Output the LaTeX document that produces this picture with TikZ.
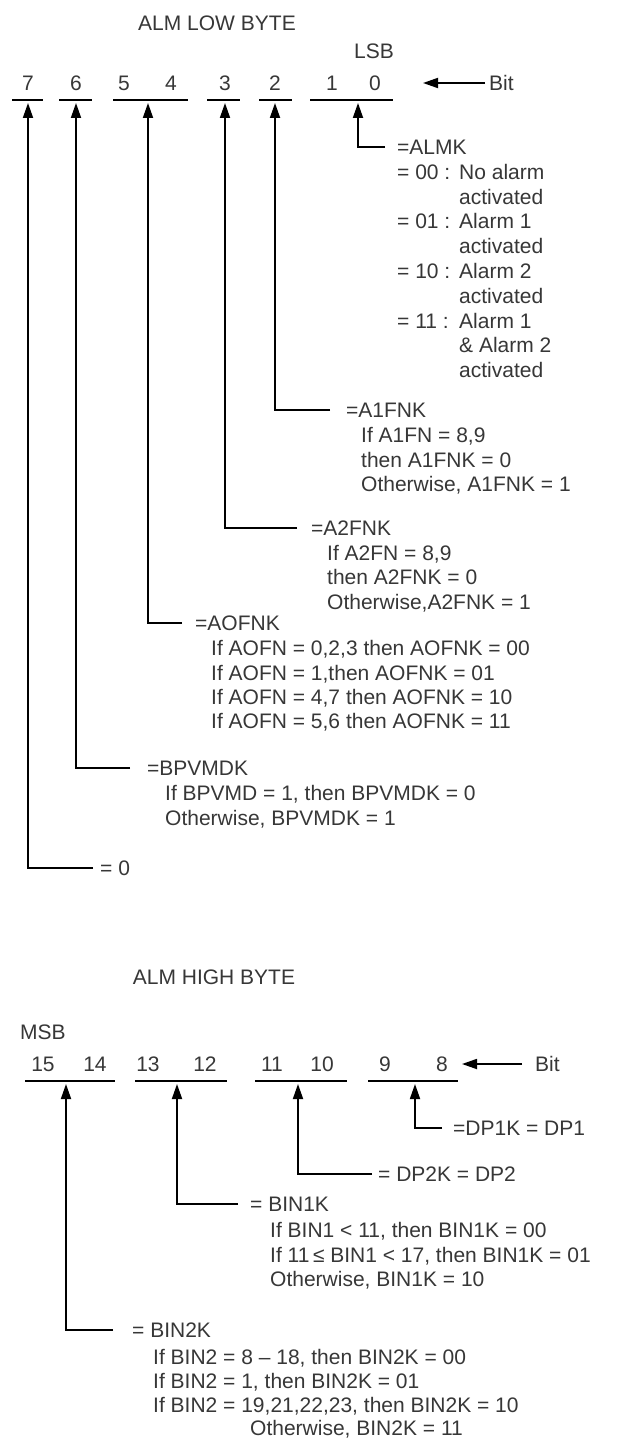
\documentclass[tikz,border=0pt]{standalone}
\usepackage{fontspec}
\setmainfont{Liberation Sans}
\usetikzlibrary{arrows.meta}
\definecolor{txtc}{RGB}{55,55,55}
\begin{document}
\begin{tikzpicture}[x=1pt,y=-1pt,
  lbl/.style={anchor=base west,inner sep=0pt,text=txtc,font=\fontsize{21}{25}\selectfont},
  ctr/.style={anchor=base,inner sep=0pt,text=txtc,font=\fontsize{21}{25}\selectfont},
  uline/.style={draw=black,line width=1.7pt},
  conn/.style={draw=black,line width=1.8pt,-{Triangle[length=15pt,width=10pt]}}]
\useasboundingbox[fill=white] (0,0) rectangle (617,1439);

% ---------------- LOW BYTE ----------------
\node[ctr] (lowtitle) at (217,31) {ALM LOW BYTE};
\node[ctr] (lsb) at (374,58.5) {LSB};
\node[ctr] (d7) at (28,90.5) {7};
\node[ctr] (d6) at (76,90.5) {6};
\node[ctr] (d5) at (124,90.5) {5};
\node[ctr] (d4) at (171,90.5) {4};
\node[ctr] (d3) at (225,90.5) {3};
\node[ctr] (d2) at (275,90.5) {2};
\node[ctr] (d1) at (332,90.5) {1};
\node[ctr] (d0) at (375,90.5) {0};
\draw[uline] (12,100) -- (43,100);
\draw[uline] (59,100) -- (92,100);
\draw[uline] (113,100) -- (188,100);
\draw[uline] (207,100) -- (240,100);
\draw[uline] (259,100) -- (292,100);
\draw[uline] (310,100) -- (393,100);
\node[lbl] (bitlo) at (489,90.5) {Bit};
\coordinate (bitlotip) at (423,83);
\draw[conn] ([xshift=-4pt]bitlo.west |- bitlotip) -- (bitlotip);

\coordinate (g7) at (28,103);
\coordinate (g6) at (76,103);
\coordinate (g54) at (148,103);
\coordinate (g3) at (225,103);
\coordinate (g2) at (275,103);
\coordinate (g10) at (358,103);

% ALMK
\node[lbl] (almk) at (397,154.5) {=ALMK};
\node[lbl] (a00) at (397,179.3) {= 00 :};
\node[lbl] (a00t) at (459,179.3) {No alarm};
\node[lbl] (a00u) at (459,204.1) {activated};
\node[lbl] (a01) at (397,228.9) {= 01 :};
\node[lbl] (a01t) at (459,228.9) {Alarm 1};
\node[lbl] (a01u) at (459,253.7) {activated};
\node[lbl] (a10) at (397,278.5) {= 10 :};
\node[lbl] (a10t) at (459,278.5) {Alarm 2};
\node[lbl] (a10u) at (459,303.3) {activated};
\node[lbl] (a11) at (397,328.1) {= 11 :};
\node[lbl] (a11t) at (459,328.1) {Alarm 1};
\node[lbl] (a11u) at (459,352.9) {\& Alarm 2};
\node[lbl] (a11v) at (459,377.7) {activated};
\coordinate (e10) at (385,147);
\draw[conn] (e10) -| (g10);

% A1FNK
\node[lbl] (a1) at (346,417.5) {=A1FNK};
\node[lbl] (a1a) at (361,442.5) {If A1FN = 8,9};
\node[lbl] (a1b) at (361,467) {then A1FNK = 0};
\node[lbl] (a1c) at (361,491.5) {Otherwise, A1FNK = 1};
\coordinate (e2) at (330,410);
\draw[conn] (e2) -| (g2);

% A2FNK
\node[lbl] (a2) at (311,535.5) {=A2FNK};
\node[lbl] (a2a) at (327,560.5) {If A2FN = 8,9};
\node[lbl] (a2b) at (327,584.5) {then A2FNK = 0};
\node[lbl] (a2c) at (327,609.5) {Otherwise,A2FNK = 1};
\coordinate (e3) at (297,528);
\draw[conn] (e3) -| (g3);

% AOFNK
\node[lbl] (ao) at (195,630.5) {=AOFNK};
\node[lbl] (aoa) at (211,655.5) {If AOFN = 0,2,3 then AOFNK = 00};
\node[lbl] (aob) at (211,680.5) {If AOFN = 1,then AOFNK = 01};
\node[lbl] (aoc) at (211,704.5) {If AOFN = 4,7 then AOFNK = 10};
\node[lbl] (aod) at (211,728.5) {If AOFN = 5,6 then AOFNK = 11};
\coordinate (e54) at (182,623);
\draw[conn] (e54) -| (g54);

% BPVMDK
\node[lbl] (bp) at (147,775.5) {=BPVMDK};
\node[lbl] (bpa) at (165,800.5) {If BPVMD = 1, then BPVMDK = 0};
\node[lbl] (bpb) at (165,825.5) {Otherwise, BPVMDK = 1};
\coordinate (e6) at (130,768);
\draw[conn] (e6) -| (g6);

% bit 7
\node[lbl] (z7) at (100,875.5) {= 0};
\coordinate (e7) at (93,868);
\draw[conn] (e7) -| (g7);

% ---------------- HIGH BYTE ----------------
\node[ctr] (hightitle) at (214,984.5) {ALM HIGH BYTE};
\node[ctr] (msb) at (43,1039.5) {MSB};
\node[ctr] (d15) at (43,1071.5) {15};
\node[ctr] (d14) at (95,1071.5) {14};
\node[ctr] (d13) at (148,1071.5) {13};
\node[ctr] (d12) at (205,1071.5) {12};
\node[ctr] (d11) at (272,1071.5) {11};
\node[ctr] (d10) at (322,1071.5) {10};
\node[ctr] (d9) at (385,1071.5) {9};
\node[ctr] (d8) at (442,1071.5) {8};
\draw[uline] (25,1081) -- (115,1081);
\draw[uline] (135,1081) -- (227,1081);
\draw[uline] (255,1081) -- (347,1081);
\draw[uline] (368,1081) -- (458,1081);
\node[lbl] (bithi) at (535,1071.5) {Bit};
\coordinate (bithitip) at (462,1064);
\coordinate (bithistart) at (522,1064);
\draw[conn] (bithistart) -- (bithitip);

\coordinate (h1514) at (66,1084);
\coordinate (h1312) at (177,1084);
\coordinate (h1110) at (298,1084);
\coordinate (h98) at (415,1084);

% DP1K
\node[lbl] (dp1) at (453,1135.5) {=DP1K = DP1};
\coordinate (f98) at (442,1128);
\draw[conn] (f98) -| (h98);

% DP2K
\node[lbl] (dp2) at (378,1181.5) {= DP2K = DP2};
\coordinate (f1110) at (372,1174);
\draw[conn] (f1110) -| (h1110);

% BIN1K
\node[lbl] (b1) at (250,1211.5) {= BIN1K};
\node[lbl] (b1a) at (270,1237.5) {If BIN1 < 11, then BIN1K = 00};
\node[lbl] (b1b) at (270,1262.5) {If 11\,≤ BIN1 < 17, then BIN1K = 01};
\node[lbl] (b1c) at (270,1286.5) {Otherwise, BIN1K = 10};
\coordinate (f1312) at (238,1204);
\draw[conn] (f1312) -| (h1312);

% BIN2K
\node[lbl] (b2) at (132,1337.5) {= BIN2K};
\node[lbl] (b2a) at (153,1364.5) {If BIN2 = 8 – 18, then BIN2K = 00};
\node[lbl] (b2b) at (153,1388.5) {If BIN2 = 1, then BIN2K = 01};
\node[lbl] (b2c) at (153,1412.5) {If BIN2 = 19,21,22,23, then BIN2K = 10};
\node[lbl] (b2d) at (250,1435.5) {Otherwise, BIN2K = 11};
\coordinate (f1514) at (113,1330);
\draw[conn] (f1514) -| (h1514);
\end{tikzpicture}
\end{document}
